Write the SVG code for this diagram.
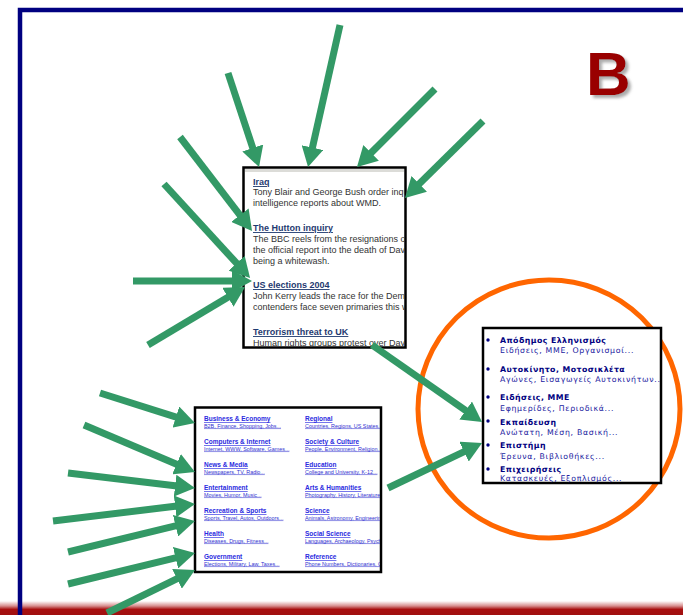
<svg xmlns="http://www.w3.org/2000/svg" width="683" height="615" viewBox="0 0 683 615">
<style>
.arrow{stroke:#339966;stroke-width:7;fill:none;marker-end:url(#head)}
.box{fill:#fff;stroke:#000;stroke-width:2.5}
.bh{font-family:"Liberation Sans",Arial,sans-serif;font-size:9px;font-weight:bold;fill:#1f3a70;text-decoration:underline}
.bt{font-family:"Liberation Sans",Arial,sans-serif;font-size:9px;fill:#333}
.yh{font-family:"Liberation Sans",Arial,sans-serif;font-size:6.5px;font-weight:bold;fill:#2a2ae0;text-decoration:underline}
.ys{font-family:"Liberation Sans",Arial,sans-serif;font-size:5.4px;fill:#3030d0;text-decoration:underline}
.gh{font-family:"DejaVu Sans",Verdana,sans-serif;font-size:7.8px;font-weight:bold;fill:#000080;letter-spacing:0.45px}
.gs{font-family:"DejaVu Sans",Verdana,sans-serif;font-size:7.8px;fill:#1a1aa0;letter-spacing:0.7px}
</style>
<defs>
<marker id="head" markerUnits="userSpaceOnUse" markerWidth="20" markerHeight="22" refX="2" refY="11" orient="auto">
<path d="M0,0 L20,11 L0,22 z" fill="#339966"/>
</marker>
<linearGradient id="band" x1="0" y1="0" x2="0" y2="1">
<stop offset="0" stop-color="#ffffff"/>
<stop offset="0.35" stop-color="#d89090"/>
<stop offset="0.6" stop-color="#a81010"/>
<stop offset="1" stop-color="#a01010"/>
</linearGradient>
<filter id="sh" x="-20%" y="-20%" width="150%" height="150%">
<feDropShadow dx="3" dy="3" stdDeviation="1.5" flood-color="#888" flood-opacity="0.7"/>
</filter>
<clipPath id="c1"><rect x="244" y="168" width="161" height="179"/></clipPath>
<clipPath id="c2"><rect x="196" y="408" width="184" height="163"/></clipPath>
<clipPath id="c3"><rect x="484" y="329" width="176" height="153.5"/></clipPath>
</defs>
<rect width="683" height="615" fill="#fff"/>
<rect x="0" y="601" width="683" height="14" fill="url(#band)"/>
<path d="M20,615 V10 H683" fill="none" stroke="#000080" stroke-width="4.5"/>
<g id="label-b"><text x="586" y="95" font-family="Liberation Sans,Arial,sans-serif" font-size="62" font-weight="bold" fill="#990000" filter="url(#sh)">B</text></g>
<g id="highlight"><ellipse cx="549" cy="409" rx="131" ry="129" fill="none" stroke="#ff6600" stroke-width="5"/></g>
<g id="news-box">
<rect class="box" x="243.5" y="167.5" width="162" height="180"/>
<rect x="245" y="169" width="159" height="3" fill="#dcdcd8"/>
<g clip-path="url(#c1)">
<text class="bh" x="253" y="185">Iraq</text>
<text class="bt" x="253" y="195">Tony Blair and George Bush order inquiries into</text>
<text class="bt" x="253" y="206">intelligence reports about WMD.</text>
<text class="bh" x="253" y="231">The Hutton inquiry</text>
<text class="bt" x="253" y="242">The BBC reels from the resignations of</text>
<text class="bt" x="253" y="253">the official report into the death of David</text>
<text class="bt" x="253" y="264">being a whitewash.</text>
<text class="bh" x="253" y="288">US elections 2004</text>
<text class="bt" x="253" y="299">John Kerry leads the race for the Democratic</text>
<text class="bt" x="253" y="310">contenders face seven primaries this week</text>
<text class="bh" x="253" y="335">Terrorism threat to UK</text>
<text class="bt" x="253" y="346">Human rights groups protest over David</text>
</g>
</g>
<g id="directory-box">
<rect class="box" x="195" y="407.5" width="186" height="164.5"/>
<g clip-path="url(#c2)">
<text class="yh" x="204" y="421">Business &amp; Economy</text>
<text class="ys" x="204" y="427.5">B2B, Finance, Shopping, Jobs...</text>
<text class="yh" x="204" y="444">Computers &amp; Internet</text>
<text class="ys" x="204" y="450.5">Internet, WWW, Software, Games...</text>
<text class="yh" x="204" y="467">News &amp; Media</text>
<text class="ys" x="204" y="473.5">Newspapers, TV, Radio...</text>
<text class="yh" x="204" y="490">Entertainment</text>
<text class="ys" x="204" y="496.5">Movies, Humor, Music...</text>
<text class="yh" x="204" y="513">Recreation &amp; Sports</text>
<text class="ys" x="204" y="519.5">Sports, Travel, Autos, Outdoors...</text>
<text class="yh" x="204" y="536">Health</text>
<text class="ys" x="204" y="542.5">Diseases, Drugs, Fitness...</text>
<text class="yh" x="204" y="559">Government</text>
<text class="ys" x="204" y="565.5">Elections, Military, Law, Taxes...</text>
<text class="yh" x="305" y="421">Regional</text>
<text class="ys" x="305" y="427.5">Countries, Regions, US States...</text>
<text class="yh" x="305" y="444">Society &amp; Culture</text>
<text class="ys" x="305" y="450.5">People, Environment, Religion...</text>
<text class="yh" x="305" y="467">Education</text>
<text class="ys" x="305" y="473.5">College and University, K-12...</text>
<text class="yh" x="305" y="490">Arts &amp; Humanities</text>
<text class="ys" x="305" y="496.5">Photography, History, Literature...</text>
<text class="yh" x="305" y="513">Science</text>
<text class="ys" x="305" y="519.5">Animals, Astronomy, Engineering...</text>
<text class="yh" x="305" y="536">Social Science</text>
<text class="ys" x="305" y="542.5">Languages, Archaeology, Psychology...</text>
<text class="yh" x="305" y="559">Reference</text>
<text class="ys" x="305" y="565.5">Phone Numbers, Dictionaries, Quotes...</text>
</g>
</g>
<g id="greek-box">
<rect class="box" x="483" y="328" width="178" height="155"/>
<g clip-path="url(#c3)">
<g fill="#000080">
<circle cx="488" cy="340" r="1.7"/><circle cx="488" cy="369" r="1.7"/><circle cx="488" cy="397" r="1.7"/>
<circle cx="488" cy="421" r="1.7"/><circle cx="488" cy="445" r="1.7"/><circle cx="488" cy="469" r="1.7"/>
</g>
<text class="gh" x="500" y="343">Απόδημος Ελληνισμός</text>
<text class="gs" x="500" y="353">Ειδήσεις, ΜΜΕ, Οργανισμοί...</text>
<text class="gh" x="500" y="372">Αυτοκίνητο, Μοτοσικλέτα</text>
<text class="gs" x="500" y="382">Αγώνες, Εισαγωγείς Αυτοκινήτων...</text>
<text class="gh" x="500" y="400">Ειδήσεις, ΜΜΕ</text>
<text class="gs" x="500" y="411">Εφημερίδες, Περιοδικά...</text>
<text class="gh" x="500" y="425">Εκπαίδευση</text>
<text class="gs" x="500" y="435">Ανώτατη, Μέση, Βασική...</text>
<text class="gh" x="500" y="448">Επιστήμη</text>
<text class="gs" x="500" y="459">Έρευνα, Βιβλιοθήκες...</text>
<text class="gh" x="500" y="472">Επιχειρήσεις</text>
<text class="gs" x="500" y="481">Κατασκευές, Εξοπλισμός...</text>
</g>
</g>
<g id="connectors">
<line class="arrow" x1="228" y1="73" x2="253.4" y2="149.9"/>
<line class="arrow" x1="340" y1="25" x2="312" y2="149.5"/>
<line class="arrow" x1="435" y1="89" x2="369.7" y2="154.3"/>
<line class="arrow" x1="483" y1="121" x2="417.8" y2="185.3"/>
<line class="arrow" x1="180" y1="137" x2="241.1" y2="216.7"/>
<line class="arrow" x1="164" y1="184" x2="237.9" y2="264.7"/>
<line class="arrow" x1="133" y1="281" x2="234" y2="281"/>
<line class="arrow" x1="148" y1="345" x2="229.6" y2="296.2"/>
<line class="arrow" x1="100" y1="393" x2="177.8" y2="417.6"/>
<line class="arrow" x1="84" y1="425" x2="178.4" y2="465"/>
<line class="arrow" x1="68" y1="473" x2="177.1" y2="485.9"/>
<line class="arrow" x1="53" y1="521" x2="177.1" y2="506.1"/>
<line class="arrow" x1="68" y1="552" x2="177.5" y2="525.3"/>
<line class="arrow" x1="68" y1="584" x2="177.5" y2="557.3"/>
<line class="arrow" x1="107" y1="613" x2="178.8" y2="577.9"/>
<line class="arrow" x1="372" y1="345" x2="467.3" y2="411.7"/>
<line class="arrow" x1="388" y1="488" x2="465.8" y2="450.8"/>
</g>
</svg>
